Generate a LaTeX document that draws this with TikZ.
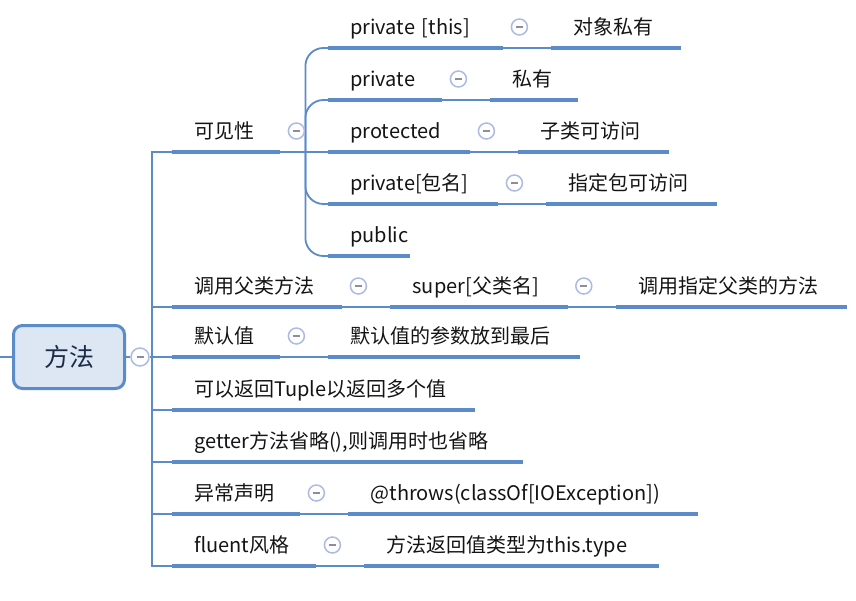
\documentclass[tikz,border=0pt]{standalone}
\usepackage{fontspec}
\setmainfont{Noto Sans CJK SC}
\usetikzlibrary{positioning}

\definecolor{barblue}{RGB}{91,139,201}
\definecolor{rootfill}{RGB}{221,231,243}
\definecolor{roottext}{RGB}{28,44,72}
\definecolor{foldring}{RGB}{172,186,228}
\definecolor{foldminus}{RGB}{140,140,165}
\definecolor{topictext}{RGB}{20,20,20}

\begin{document}
\begin{tikzpicture}[
  x=1pt, y=-1pt,
  font=\fontsize{20}{24}\selectfont,
  root/.style={draw=barblue, line width=3pt, rounded corners=9pt, fill=rootfill,
    minimum width=111pt, minimum height=63pt, text=roottext, font=\fontsize{25}{30}\selectfont},
  topic/.style={anchor=south west, inner xsep=0pt, inner ysep=8pt, text width=#1,
    align=left, text height=15pt, text depth=5pt, text=topictext,
    execute at begin node={\hyphenpenalty=10000\relax\noindent\hspace*{22pt}}},
  bar/.style={draw=barblue, line width=4pt},
  link/.style={draw=barblue, line width=1.8pt},
  fold/.style={circle, draw=foldring, line width=1.5pt, fill=white, minimum size=16pt, inner sep=0pt,
    path picture={\draw[foldminus, line width=1.4pt]
      ([xshift=-3.5pt]path picture bounding box.center) -- ([xshift=3.5pt]path picture bounding box.center);}}
]
\useasboundingbox (0,0) rectangle (856,600);

% root and its fold
\node[root] (root) at (69,357) {方法};
\coordinate (lstub) at (0,357);
\node[fold, minimum size=18pt] (root-f) at (140,357) {};
\coordinate (trunk) at (152,357);

% first level
\node[topic=108pt] (vis) at (172,152) {可见性};
\node[topic=170pt] (callsup) at (172,307) {调用父类方法};
\node[topic=108pt] (defval) at (172,357) {默认值};
\node[topic=303pt] (tuple) at (172,410) {可以返回Tuple以返回多个值};
\node[topic=351pt] (getter) at (172,462) {getter方法省略(),则调用时也省略};
\node[topic=128pt] (exc) at (172,514) {异常声明};
\node[topic=144pt] (fluent) at (172,566) {fluent风格};

% visibility
\node[topic=175pt] (pthis) at (328,48) {private [this]};
\node[topic=114pt] (priv) at (328,100) {private};
\node[topic=142pt] (prot) at (328,152) {protected};
\node[topic=170pt] (ppkg) at (328,204) {private[包名]};
\node[topic=82pt] (pub) at (328,256) {public};
\node[topic=129pt] (own) at ([xshift=48pt]pthis.south east) {对象私有};
\node[topic=87pt] (privx) at ([xshift=48pt]priv.south east) {私有};
\node[topic=150pt] (sub) at ([xshift=48pt]prot.south east) {子类可访问};
\node[topic=170pt] (pkg) at ([xshift=48pt]ppkg.south east) {指定包可访问};

% the other chains
\node[topic=177pt] (supname) at ([xshift=48pt]callsup.south east) {super[父类名]};
\node[topic=231pt] (supmeth) at ([xshift=48pt]supname.south east) {调用指定父类的方法};
\node[topic=251pt] (defpos) at ([xshift=48pt]defval.south east) {默认值的参数放到最后};
\node[topic=349pt] (throws) at ([xshift=48pt]exc.south east) {@throws(classOf[IOException])};
\node[topic=294pt] (thistype) at ([xshift=48pt]fluent.south east) {方法返回值类型为this.type};

% connectors
\draw[link] (lstub) -- (root);
\draw[link] (root) -- (root-f) -- (trunk);
\foreach \n in {vis,callsup,defval,tuple,getter,exc,fluent}
  \draw[link] (trunk) |- (\n.south west);

\coordinate (vsplit) at ([xshift=25pt]vis.south east);
\draw[link] (vis.south east) -- (vsplit);
\foreach \n in {pthis,priv,ppkg,pub}
  \draw[link, rounded corners=18pt] (vsplit) |- (\n.south west);
\draw[link] (vsplit) -- (prot.south west);

\foreach \a/\b in {pthis/own,priv/privx,prot/sub,ppkg/pkg,callsup/supname,supname/supmeth,defval/defpos,exc/throws,fluent/thistype}
  \draw[link] (\a.south east) -- (\b.south west);

% underlines
\foreach \n in {vis,callsup,defval,tuple,getter,exc,fluent,pthis,priv,prot,ppkg,pub,own,privx,sub,pkg,supname,supmeth,defpos,throws,thistype}
  \draw[bar] (\n.south west) -- (\n.south east);

% fold markers
\foreach \n in {vis,pthis,priv,prot,ppkg,callsup,supname,defval,exc,fluent}
  \node[fold] (\n-f) at ([xshift=16pt,yshift=21pt]\n.south east) {};

\end{tikzpicture}
\end{document}
